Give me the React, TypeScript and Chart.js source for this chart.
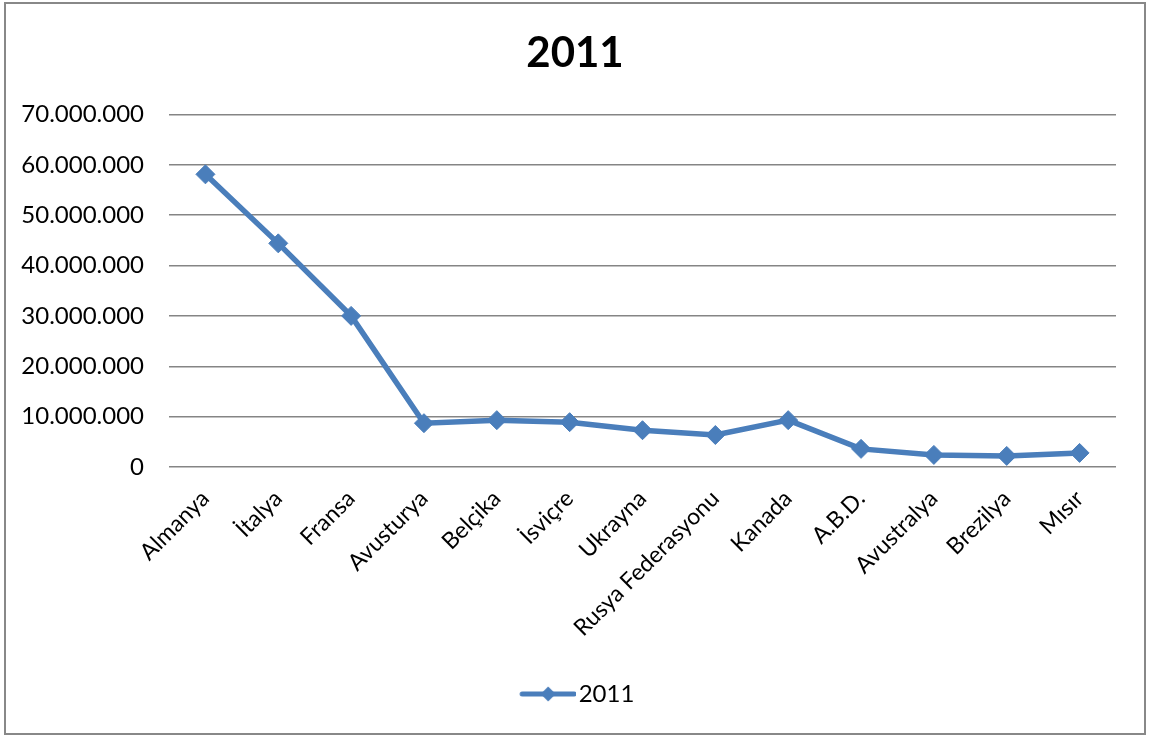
import React, { useEffect, useRef } from "react";
import { Chart, registerables } from "chart.js";

Chart.register(...registerables);

const categories = [
  "Almanya",
  "İtalya",
  "Fransa",
  "Avusturya",
  "Belçika",
  "İsviçre",
  "Ukrayna",
  "Rusya Federasyonu",
  "Kanada",
  "A.B.D.",
  "Avustralya",
  "Brezilya",
  "Mısır",
];

const seriesName = "2011";
const values2011 = [
  58100000, 44400000, 30000000, 8700000, 9300000, 8900000, 7300000,
  6350000, 9300000, 3600000, 2400000, 2200000, 2800000,
];

const yMin = 0;
const yMax = 70000000;
const yStep = 10000000;

const LINE_COLOR = "#4A7EBB";
const FONT = "Lato, 'Open Sans', sans-serif";

function formatTr(v: number): string {
  return String(Math.round(v)).replace(/\B(?=(\d{3})+(?!\d))/g, ".");
}

function makeLegendSymbol(): HTMLCanvasElement {
  const c = document.createElement("canvas");
  c.width = 70;
  c.height = 20;
  const ctx = c.getContext("2d")!;
  ctx.strokeStyle = LINE_COLOR;
  ctx.lineWidth = 5;
  ctx.lineCap = "round";
  ctx.beginPath();
  ctx.moveTo(16, 10);
  ctx.lineTo(68, 10);
  ctx.stroke();
  ctx.fillStyle = LINE_COLOR;
  ctx.beginPath();
  ctx.moveTo(42, 2.5);
  ctx.lineTo(49.5, 10);
  ctx.lineTo(42, 17.5);
  ctx.lineTo(34.5, 10);
  ctx.closePath();
  ctx.fill();
  return c;
}

export default function App() {
  const canvasRef = useRef<HTMLCanvasElement | null>(null);

  useEffect(() => {
    if (!canvasRef.current) return;
    const symbol = makeLegendSymbol();
    const chart = new Chart(canvasRef.current, {
      type: "line",
      data: {
        labels: categories,
        datasets: [
          {
            label: seriesName,
            data: values2011,
            borderColor: LINE_COLOR,
            backgroundColor: LINE_COLOR,
            borderWidth: 5.5,
            pointStyle: "rectRot",
            pointRadius: 9.5,
            pointBorderWidth: 1,
            pointBackgroundColor: LINE_COLOR,
            pointBorderColor: LINE_COLOR,
            tension: 0,
          },
        ],
      },
      options: {
        responsive: false,
        maintainAspectRatio: false,
        animation: false,
        layout: { padding: { left: 0, right: 0, top: 0, bottom: 17 } },
        plugins: {
          title: {
            display: true,
            text: "2011",
            color: "#000",
            font: { family: FONT, size: 42, weight: "bold" },
            padding: { top: 24, bottom: 36 },
          },
          legend: {
            display: true,
            position: "bottom",
            labels: {
              color: "#000",
              font: { family: FONT, size: 24 },
              usePointStyle: true,
              pointStyleWidth: 51,
              padding: 10,
              generateLabels: (ch: any) =>
                ch.data.datasets.map((ds: any, i: number) => ({
                  text: ds.label,
                  pointStyle: symbol,
                  fillStyle: LINE_COLOR,
                  strokeStyle: LINE_COLOR,
                  lineWidth: 0,
                  hidden: false,
                  datasetIndex: i,
                  fontColor: "#000",
                })),
            },
          },
          tooltip: { enabled: false },
        },
        scales: {
          x: {
            offset: true,
            grid: { display: false },
            border: { display: false },
            ticks: {
              color: "#000",
              font: { family: FONT, size: 23 },
              minRotation: 45,
              maxRotation: 45,
              autoSkip: false,
              padding: 10,
            },
            afterFit: (scale: any) => {
              scale.height = 205;
            },
          },
          y: {
            min: yMin,
            max: yMax,
            grid: { color: "#858585", lineWidth: 1.5, drawTicks: false },
            border: { display: false },
            ticks: {
              stepSize: yStep,
              color: "#000",
              font: { family: FONT, size: 24 },
              padding: 25,
              callback: (v: any) => formatTr(Number(v)),
            },
            afterFit: (scale: any) => {
              scale.width = 163;
            },
          },
          yRight: {
            position: "right",
            min: yMin,
            max: yMax,
            grid: { display: false },
            border: { display: false },
            ticks: { display: false },
            afterFit: (scale: any) => {
              scale.width = 28;
            },
          },
        },
      },
    });
    return () => chart.destroy();
  }, []);

  return (
    <div
      style={{
        position: "absolute",
        left: 4,
        top: 2,
        width: 1142,
        height: 733,
        border: "2px solid #888",
        boxSizing: "border-box",
        background: "#fff",
      }}
    >
      <canvas ref={canvasRef} width={1138} height={729} style={{ display: "block" }} />
    </div>
  );
}
